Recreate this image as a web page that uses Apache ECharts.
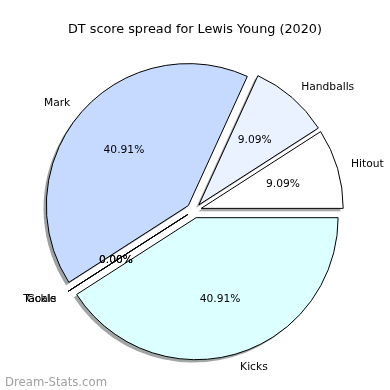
<!DOCTYPE html>
<html>
<head>
<meta charset="utf-8">
<script src="https://cdn.jsdelivr.net/npm/echarts@6/dist/echarts.min.js"></script>
<style>html,body{margin:0;padding:0;background:#fff}#c{width:390px;height:390px}</style>
</head>
<body>
<div id="c"></div>
<script>
const categories = ['Hitout', 'Handballs', 'Mark', 'Tackle', 'Goals', 'Kicks'];
const values = [2, 2, 9, 0, 0, 9];
const colors = ['#ffffff', '#eaf1ff', '#c6d9fe', '#c6d9fe', '#c6d9fe', '#dcffff'];
const titleText = 'DT score spread for Lewis Young (2020)';
const watermark = 'Dream-Stats.com';

const total = values.reduce((a, b) => a + b, 0);
const R = 142, CX = 194, CY = 210.5, EXP = 7.5, SH = 2.8;
const font = 'DejaVu Sans';

function shadowOf(hex) {
  const n = parseInt(hex.slice(1), 16);
  const r = Math.round(((n >> 16) & 255) * 0.3), g = Math.round(((n >> 8) & 255) * 0.3), b = Math.round((n & 255) * 0.3);
  return 'rgba(' + r + ',' + g + ',' + b + ',0.5)';
}

const baseData = categories.map((n, i) => ({
  name: n, value: values[i], selected: true,
  itemStyle: { color: colors[i] }
}));
const shadowData = categories.map((n, i) => ({
  name: n, value: values[i], selected: true,
  itemStyle: { color: shadowOf(colors[i]) }
}));
const pctData = categories.map((n, i) => ({
  name: n, value: values[i], selected: true
}));

const common = {
  type: 'pie', startAngle: 0, clockwise: false,
  selectedMode: 'multiple', selectedOffset: EXP,
  avoidLabelOverlap: false, minShowLabelAngle: 0,
  labelLayout: { hideOverlap: false },
  silent: true, emphasis: { disabled: true }
};

const chart = echarts.init(document.getElementById('c'));
chart.setOption({
  animation: false,
  backgroundColor: '#fff',
  title: [
    { text: titleText, left: 'center', top: 18,
      textStyle: { fontFamily: font, fontSize: 12.8, fontWeight: 'normal', color: '#000' } },
    { text: watermark, left: 0, top: 372,
      textStyle: { fontFamily: font, fontSize: 11.7, fontWeight: 'normal', color: '#a0a0a0' } }
  ],
  series: [
    Object.assign({}, common, {
      z: 1, center: [CX - SH, CY + SH], radius: R,
      itemStyle: { borderWidth: 0 },
      label: { show: false }, labelLine: { show: false },
      data: shadowData
    }),
    Object.assign({}, common, {
      z: 2, center: [CX, CY], radius: R,
      itemStyle: { borderColor: '#000', borderWidth: 1 },
      label: { show: true, position: 'outside', formatter: '{b}', distanceToLabelLine: 0,
        fontFamily: font, fontSize: 10.7, color: '#000' },
      labelLine: { show: false, length: R * 0.1, length2: 0 },
      data: baseData
    }),
    Object.assign({}, common, {
      z: 3, center: [CX, CY], radius: [R * 0.2 - 6, R],
      itemStyle: { color: 'rgba(0,0,0,0)', borderWidth: 0 },
      label: { show: true, position: 'inside',
        formatter: p => (p.value / total * 100).toFixed(2) + '%',
        fontFamily: font, fontSize: 10.7, color: '#000' },
      labelLine: { show: false },
      data: pctData
    })
  ]
});
</script>
</body>
</html>
